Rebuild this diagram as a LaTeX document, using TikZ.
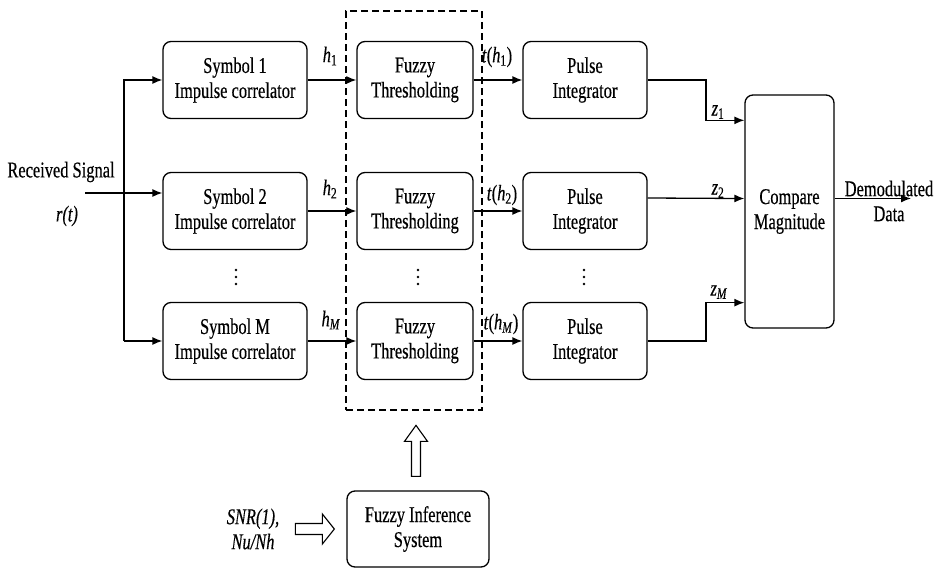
\documentclass[tikz,border=0pt]{standalone}
\usepackage{fontspec}
\setmainfont{Liberation Serif}[FakeStretch=0.73,FakeBold=0.4]
\usetikzlibrary{arrows.meta,calc}
\begin{document}
\begin{tikzpicture}[x=1pt,y=-1pt,
  box/.style={draw, line width=1.3pt, rounded corners=8pt, align=center, inner sep=0pt, font=\fontsize{22.5}{25}\selectfont},
  lbl/.style={font=\fontsize{22.5}{25}\selectfont, inner sep=0pt, align=center},
  con/.style={line width=1.3pt},
  arr/.style={con, -{Latex[length=10pt,width=8pt]}},
  hollow/.style={line width=1.1pt, fill=white}]
\useasboundingbox (0,0) rectangle (935,568);
% correlators
\node[box, minimum width=144pt, minimum height=77pt] (s1) at (235,80) {Symbol 1\\Impulse correlator};
\node[box, minimum width=144pt, minimum height=77pt] (s2) at (235,211) {Symbol 2\\Impulse correlator};
\node[box, minimum width=144pt, minimum height=77pt] (sM) at (235,341) {Symbol M\\Impulse correlator};
% fuzzy thresholding
\node[box, minimum width=116pt, minimum height=77pt] (f1) at (415,80) {Fuzzy\\Thresholding};
\node[box, minimum width=116pt, minimum height=77pt] (f2) at (415,211) {Fuzzy\\Thresholding};
\node[box, minimum width=116pt, minimum height=77pt] (fM) at (415,341) {Fuzzy\\Thresholding};
% pulse integrators
\node[box, minimum width=124pt, minimum height=77pt] (p1) at (585,80) {Pulse\\Integrator};
\node[box, minimum width=124pt, minimum height=77pt] (p2) at (585,211) {Pulse\\Integrator};
\node[box, minimum width=124pt, minimum height=77pt] (pM) at (585,341) {Pulse\\Integrator};
% compare
\node[box, minimum width=89pt, minimum height=233pt] (cmp) at (789.5,211.5) {Compare\\Magnitude};
% fuzzy inference system
\node[box, minimum width=142pt, minimum height=76pt] (fis) at (418,529) {Fuzzy Inference\\System};
% dashed group
\node[draw, dash pattern=on 7pt off 4pt, line width=1.3pt, minimum width=136pt, minimum height=399pt, inner sep=0pt] (grp) at (414,210.5) {};
% dots
\foreach \x in {236,418,584} \foreach \y in {270,277,284} \fill (\x,\y) circle (1.4pt);
% input
\node[lbl] (rs) at (61,172) {Received Signal};
\node[lbl] (rt) at (67,216) {\textit{r(t)}};
\coordinate (rin) at (85,193);
\coordinate (bus) at (124,193);
\draw[arr] (rin) -- (rin -| s2.west);
\draw[arr] (bus |- sM.west) -- (bus |- s1.west) -- (s1.west);
\draw[arr] (bus |- sM.west) -- (sM.west);
% correlator -> fuzzy
\draw[arr] (s1.east) -- (f1.west);
\draw[arr] (s2.east) -- (f2.west);
\draw[arr] (sM.east) -- (fM.west);
\node[lbl] (h1) at (330,56) {\textit{h}\textsubscript{1}};
\node[lbl] (h2) at (330,189) {\textit{h}\textsubscript{2}};
\node[lbl] (hM) at (331,320) {\textit{h}\textsubscript{\textit{M}}};
% fuzzy -> pulse
\draw[arr] (f1.east) -- (p1.west);
\draw[arr] (f2.east) -- (p2.west);
\draw[arr] (fM.east) -- (pM.west);
\node[lbl] (t1) at (497,57) {\textit{t}(\textit{h}\textsubscript{1})};
\node[lbl] (t2) at (502,195) {\textit{t}(\textit{h}\textsubscript{2})};
\node[lbl] (tM) at (501,324) {\textit{t}(\textit{h}\textsubscript{\textit{M}})};
% pulse -> compare
\coordinate (jx) at (706,0);
\coordinate (z1in) at ($(cmp.north west)+(0,26)$);
\coordinate (z2in) at ($(cmp.west)+(0,-13)$);
\coordinate (zMin) at ($(cmp.south west)+(0,-26)$);
\draw[arr] (p1.east) -| (jx |- z1in) -- (z1in);
\draw[arr] ($(p2.east)+(0,-13)$) -- (z2in);
\draw[arr] (pM.east) -| (jx |- zMin) -- (zMin);
\node[lbl] (z1) at (718,112) {\textit{z}\textsubscript{1}};
\node[lbl] (z2) at (718,191) {\textit{z}\textsubscript{2}};
\node[lbl] (zM) at (719,292) {\textit{z}\textsubscript{\textit{M}}};
% output
\coordinate (dout) at (911,0);
\draw[arr] (cmp.east |- z2in) -- (dout |- z2in);
\node[lbl] (dem) at (889,201) {Demodulated\\Data};
% fuzzy inference arrows
\coordinate (ub) at ($(fis.north)+(-2,-14)$);
\draw[hollow] (ub) ++(-4.5,0) -- ++(0,-35) -- ++(-7,0) -- ++(11.5,-16) -- ++(11.5,16) -- ++(-7,0) -- ++(0,35) -- cycle;
\coordinate (ra) at ($(fis.west)+(-51,0)$);
\draw[hollow] (ra) ++(0,-5.5) -- ++(27,0) -- ++(0,-9.5) -- ++(12,15) -- ++(-12,15) -- ++(0,-9.5) -- ++(-27,0) -- cycle;
\node[lbl] (snr) at (253,529) {\textit{SNR(1),}\\\textit{Nu/Nh}};
\end{tikzpicture}
\end{document}
